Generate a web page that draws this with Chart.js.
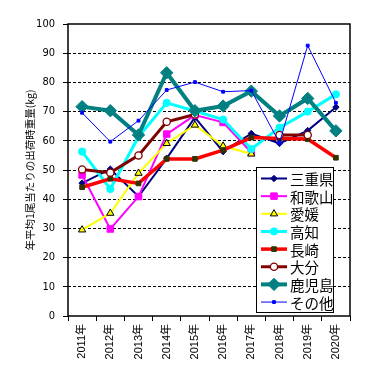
<!DOCTYPE html>
<html>
<head>
<meta charset="utf-8">
<script src="https://cdn.jsdelivr.net/npm/chart.js@4/dist/chart.umd.min.js"></script>
<style>
html,body{margin:0;padding:0;background:#fff;}
#c{display:block;}
</style>
</head>
<body>
<canvas id="c" width="379" height="378"></canvas>
<script>
const years = ['2011年','2012年','2013年','2014年','2015年','2016年','2017年','2018年','2019年','2020年'];
const seriesNames = ['三重県','和歌山','愛媛','高知','長崎','大分','鹿児島','その他'];
const mie       = [45.5, 50.3, 40.9, 54.0, 68.0, 56.3, 62.5, 59.1, 63.5, 71.5];
const wakayama  = [48.3, 29.8, 40.9, 62.3, 68.8, 66.3, 56.0, null, null, null];
const ehime     = [29.5, 35.2, 48.9, 59.1, 65.4, 58.2, 55.5, null, null, null];
const kochi     = [56.3, 43.5, 61.4, 73.0, 70.2, 67.3, 57.2, 64.5, 70.0, 75.9];
const nagasaki  = [44.1, 47.0, 45.4, 53.8, 53.8, 56.8, 61.1, 60.8, 60.6, 54.2];
const oita      = [50.2, 49.1, 55.0, 66.5, 69.0, null, null, 62.0, 62.0, null];
const kagoshima = [71.7, 70.3, 62.0, 83.3, 70.3, 71.9, 77.0, 68.5, 74.5, 63.4];
const other     = [69.6, 59.7, 66.9, 77.4, 80.1, 76.8, 77.2, 59.3, 92.6, 73.0];
const yTitle = '年平均1尾当たりの出荷時重量(kg)';

const styles = [
  {c:'#000080', w:2,   ps:'rectRot',  r:3.2, bg:'#000080', bc:'#000080', bw:1},
  {c:'#FF00FF', w:2,   ps:'rect',     r:4.6, bg:'#FF00FF', bc:'#FF00FF', bw:1},
  {c:'#FFFF00', w:2,   ps:'triangle', r:4.2, bg:'#FFFF00', bc:'#000000', bw:1},
  {c:'#00FFFF', w:3,   ps:'circle',   r:3.6, bg:'#00FFFF', bc:'#00FFFF', bw:1},
  {c:'#FF0000', w:3.5, ps:'rect',     r:3.3, bg:'#333300', bc:'#333300', bw:1},
  {c:'#800000', w:3,   ps:'circle',   r:3.6, bg:'#FFFFFF', bc:'#800000', bw:1.3},
  {c:'#008080', w:4,   ps:'rectRot',  r:6.2, bg:'#008080', bc:'#008080', bw:1},
  {c:'#0000FF', w:1,   ps:'rect',     r:2,   bg:'#0000FF', bc:'#0000FF', bw:1}
];
const allData = [mie, wakayama, ehime, kochi, nagasaki, oita, kagoshima, other];

const datasets = allData.map((d, i) => ({
  label: seriesNames[i],
  data: d,
  borderColor: styles[i].c,
  backgroundColor: styles[i].c,
  borderWidth: styles[i].w,
  pointStyle: styles[i].ps,
  pointRadius: styles[i].r,
  pointBackgroundColor: styles[i].bg,
  pointBorderColor: styles[i].bc,
  pointBorderWidth: styles[i].bw,
  tension: 0,
  spanGaps: false,
  order: allData.length - 1 - i
}));

const frame = {
  id: 'frame',
  beforeDatasetsDraw(chart) {
    const a = chart.chartArea, ctx = chart.ctx;
    ctx.save();
    ctx.strokeStyle = '#000';
    ctx.lineWidth = 1.5;
    ctx.strokeRect(a.left, a.top, a.right - a.left, a.bottom - a.top);
    ctx.restore();
  }
};

const boxLegend = {
  id: 'boxLegend',
  afterDatasetsDraw(chart) {
    const ctx = chart.ctx;
    const x0 = 256, y0 = 167, w = 77, h = 145;
    ctx.save();
    ctx.fillStyle = '#fff';
    ctx.fillRect(x0, y0, w, h);
    ctx.strokeStyle = '#000';
    ctx.lineWidth = 1;
    ctx.strokeRect(x0 + 0.5, y0 + 0.5, w, h);
    chart.data.datasets.forEach((ds, i) => {
      const cy = y0 + 11.5 + i * 17.65;
      ctx.strokeStyle = ds.borderColor;
      ctx.lineWidth = ds.borderWidth;
      ctx.beginPath();
      ctx.moveTo(261, cy);
      ctx.lineTo(287, cy);
      ctx.stroke();
      ctx.fillStyle = ds.pointBackgroundColor;
      ctx.strokeStyle = ds.pointBorderColor;
      ctx.lineWidth = ds.pointBorderWidth;
      Chart.helpers.drawPoint(ctx, {pointStyle: ds.pointStyle, radius: ds.pointRadius, borderWidth: ds.pointBorderWidth, rotation: 0}, 274, cy);
      ctx.fillStyle = '#000';
      ctx.font = '14.5px "Noto Sans CJK JP"';
      ctx.textBaseline = 'middle';
      ctx.textAlign = 'left';
      ctx.fillText(ds.label, 290, cy + 1);
    });
    ctx.restore();
  }
};

new Chart(document.getElementById('c'), {
  type: 'line',
  data: { labels: years, datasets: datasets },
  plugins: [frame, boxLegend],
  options: {
    responsive: false,
    animation: false,
    devicePixelRatio: 1,
    layout: { padding: { top: 24, right: 29, left: 0, bottom: 0 } },
    plugins: { legend: { display: false }, tooltip: { enabled: false } },
    scales: {
      x: {
        type: 'category',
        offset: true,
        afterFit(s) { s.height = 62; },
        grid: { offset: true, drawOnChartArea: false, drawTicks: true, tickLength: 5, tickColor: '#000', tickWidth: 1, color: '#000' },
        border: { display: false },
        ticks: {
          minRotation: 90, maxRotation: 90, padding: 3, autoSkip: false,
          color: '#000',
          font: { family: '"Liberation Sans", "Noto Sans CJK JP", sans-serif', size: 11 }
        }
      },
      y: {
        min: 0, max: 100,
        afterFit(s) { s.width = 68; },
        grid: {
          drawTicks: true, tickLength: 5, tickColor: '#000', tickWidth: 1, lineWidth: 1,
          color: (c) => (c.tick && (c.tick.value === 0 || c.tick.value === 100)) ? 'rgba(0,0,0,0)' : '#000'
        },
        border: { display: false, dash: [3, 2] },
        ticks: {
          stepSize: 10, padding: 8, color: '#000',
          font: { family: '"Liberation Sans Narrow", "DejaVu Sans Condensed", "Liberation Sans", sans-serif', size: 11 }
        },
        title: {
          display: true, text: yTitle, color: '#000',
          font: { family: '"Noto Sans CJK JP", sans-serif', size: 10.5 },
          padding: { top: 24, bottom: 0 }
        }
      }
    }
  }
});
</script>
</body>
</html>
